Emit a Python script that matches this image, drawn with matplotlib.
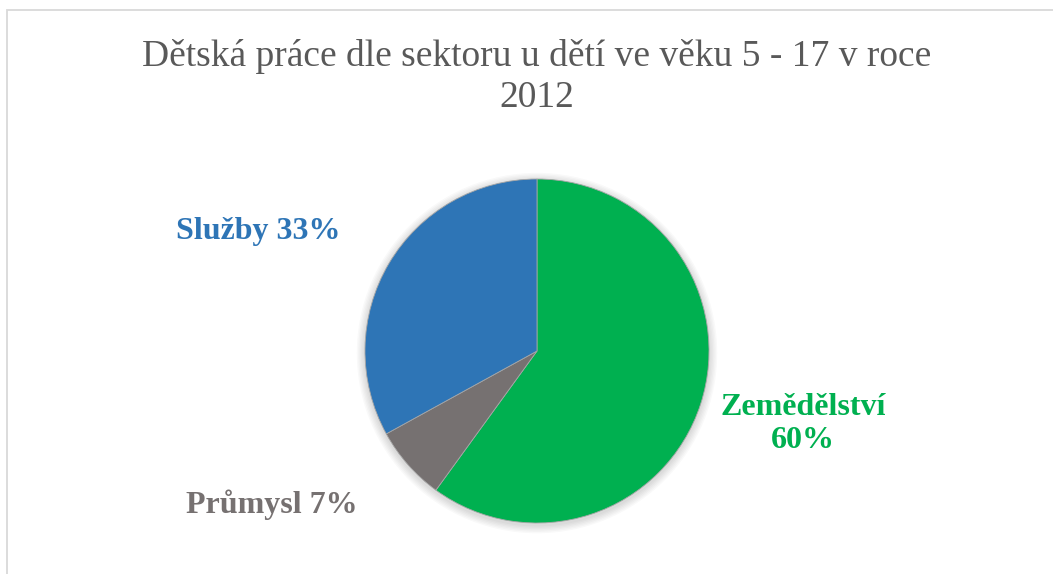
import matplotlib
matplotlib.use("Agg")
import matplotlib.pyplot as plt
from matplotlib.patches import Rectangle, Circle

categories = ["Zemědělství", "Průmysl", "Služby"]
values = [60, 7, 33]
colors = ["#00B050", "#767171", "#2E75B6"]
title = "Dětská práce dle sektoru u dětí ve věku 5 - 17 v roce\n2012"

W, H = 1053, 574
fig = plt.figure(figsize=(W / 100, H / 100), dpi=100)
fig.patch.set_facecolor("white")

# chart frame
fig.patches.append(Rectangle((7 / W, -0.05), 1.2, 1 - 10 / H + 0.05, transform=fig.transFigure,
                             fill=False, edgecolor="#D9D9D9", linewidth=1.3))

cx, cy, r = 537, 351, 172
ax = fig.add_axes([(cx - r) / W, (H - cy - r) / H, 2 * r / W, 2 * r / H])
ax.set_xlim(-1, 1)
ax.set_ylim(-1, 1)
ax.axis("off")

# soft shadow
for i in range(6):
    ax.add_patch(Circle((0.0, -0.012), 1.0 + 0.008 * (6 - i), color="black", alpha=0.025,
                        zorder=0, lw=0, clip_on=False))

ax.pie(values, colors=colors, startangle=90, counterclock=False, radius=1,
       wedgeprops=dict(linewidth=0.6, edgecolor="#A6A6A6"))
ax.set_xlim(-1, 1)
ax.set_ylim(-1, 1)

font = "Liberation Serif"
fig.text(cx / W, 1 - 77 / H, title, ha="center", va="center", fontsize=27, color="#595959",
         family=font, linespacing=1.22)

def fy(y):
    return 1 - y / H

fig.text(258 / W, fy(232), f"{categories[2]} {values[2]}%", ha="center", va="center",
         fontsize=23, fontweight="bold", color=colors[2], family=font)
fig.text(272 / W, fy(505), f"{categories[1]} {values[1]}%", ha="center", va="center",
         fontsize=23, fontweight="bold", color=colors[1], family=font)
fig.text(803 / W, fy(424), f"{categories[0]}\n{values[0]}%", ha="center", va="center",
         fontsize=23, fontweight="bold", color=colors[0], family=font, linespacing=1.2)

fig.savefig("out.png", dpi=100, facecolor="white")
